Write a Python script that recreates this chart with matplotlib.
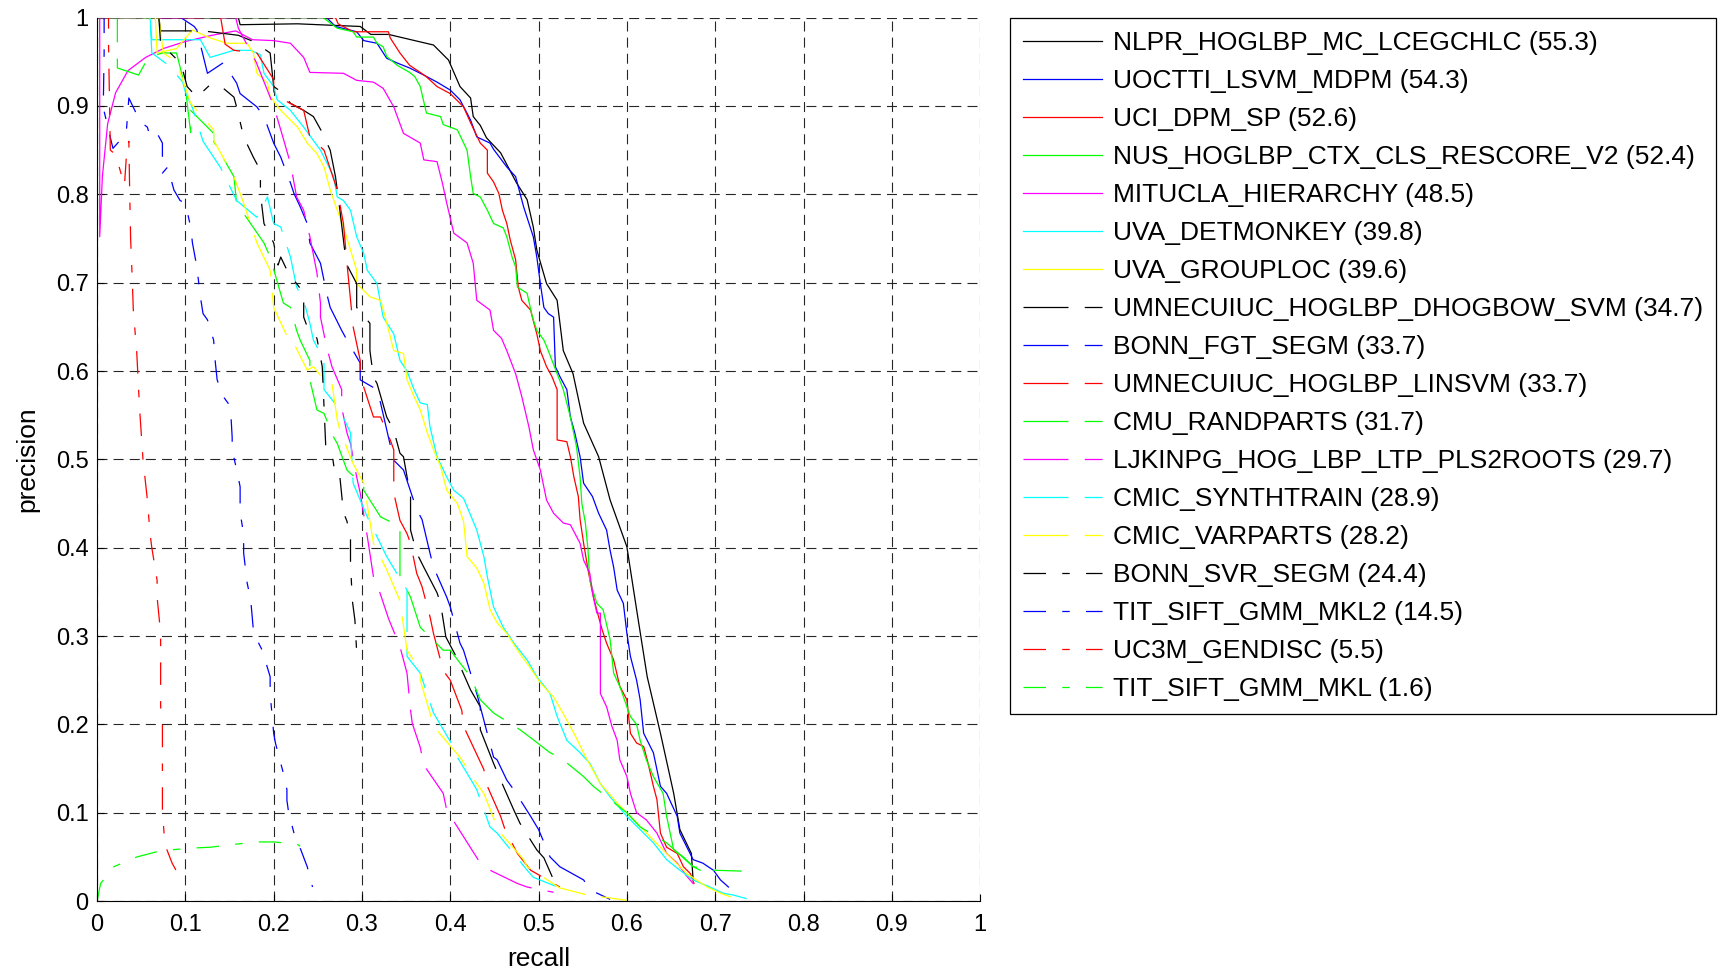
import numpy as np
import matplotlib
matplotlib.use('Agg')
from matplotlib import pyplot as plt

plt.rcParams['font.family'] = ['Liberation Sans', 'DejaVu Sans']

# (recall, precision) points of each detector
nlpr = [(0, 1), (0.16, 1), (0.162, 0.992), (0.227, 0.993), (0.298, 0.99), (0.31, 0.981),
        (0.33, 0.981), (0.381, 0.969), (0.398, 0.952), (0.411, 0.922), (0.423, 0.909),
        (0.426, 0.888), (0.434, 0.878), (0.441, 0.864), (0.457, 0.847), (0.475, 0.813),
        (0.487, 0.794), (0.494, 0.763), (0.498, 0.737), (0.509, 0.699), (0.521, 0.68),
        (0.528, 0.623), (0.539, 0.597), (0.551, 0.541), (0.568, 0.503), (0.581, 0.454),
        (0.6, 0.401), (0.611, 0.33), (0.623, 0.254), (0.638, 0.19), (0.653, 0.122),
        (0.66, 0.081), (0.673, 0.054), (0.675, 0.024)]
uoctti = [(0, 1), (0.26, 1), (0.27, 0.99), (0.294, 0.984), (0.302, 0.974), (0.317, 0.971),
          (0.328, 0.954), (0.339, 0.949), (0.354, 0.943), (0.37, 0.935), (0.385, 0.927),
          (0.4, 0.918), (0.411, 0.907), (0.423, 0.884), (0.43, 0.865), (0.445, 0.858),
          (0.449, 0.851), (0.464, 0.831), (0.474, 0.82), (0.479, 0.801), (0.483, 0.786),
          (0.494, 0.752), (0.498, 0.729), (0.502, 0.699), (0.506, 0.672), (0.511, 0.665),
          (0.517, 0.661), (0.519, 0.605), (0.524, 0.594), (0.532, 0.579), (0.536, 0.548),
          (0.541, 0.53), (0.547, 0.503), (0.551, 0.473), (0.561, 0.458), (0.568, 0.439),
          (0.577, 0.42), (0.581, 0.397), (0.585, 0.378), (0.589, 0.352), (0.596, 0.337),
          (0.6, 0.303), (0.604, 0.277), (0.611, 0.25), (0.615, 0.228), (0.619, 0.19),
          (0.63, 0.168), (0.638, 0.13), (0.645, 0.122), (0.657, 0.096), (0.66, 0.077),
          (0.668, 0.061), (0.675, 0.047), (0.686, 0.043), (0.698, 0.035), (0.706, 0.024),
          (0.715, 0.016)]
uci = [(0, 1), (0.27, 1), (0.273, 0.993), (0.29, 0.984), (0.33, 0.984), (0.332, 0.977),
       (0.343, 0.96), (0.354, 0.946), (0.366, 0.938), (0.373, 0.933), (0.385, 0.922),
       (0.4, 0.914), (0.415, 0.899), (0.423, 0.881), (0.434, 0.858), (0.442, 0.85),
       (0.442, 0.824), (0.449, 0.814), (0.455, 0.801), (0.459, 0.782), (0.464, 0.767),
       (0.468, 0.748), (0.474, 0.726), (0.477, 0.695), (0.481, 0.68), (0.491, 0.669),
       (0.494, 0.657), (0.498, 0.642), (0.502, 0.623), (0.509, 0.605), (0.515, 0.594),
       (0.521, 0.579), (0.521, 0.522), (0.532, 0.52), (0.536, 0.503), (0.54, 0.48),
       (0.545, 0.458), (0.547, 0.432), (0.551, 0.405), (0.556, 0.375), (0.561, 0.349),
       (0.566, 0.329), (0.572, 0.307), (0.577, 0.292), (0.585, 0.273), (0.592, 0.243),
       (0.6, 0.228), (0.604, 0.19), (0.611, 0.179), (0.619, 0.175), (0.624, 0.156),
       (0.63, 0.13), (0.634, 0.115), (0.638, 0.077), (0.645, 0.061), (0.657, 0.054),
       (0.664, 0.039), (0.672, 0.031), (0.676, 0.02)]
nus = [(0, 1), (0.256, 1), (0.272, 0.988), (0.29, 0.984), (0.294, 0.978), (0.313, 0.978),
       (0.317, 0.971), (0.324, 0.967), (0.328, 0.956), (0.34, 0.946), (0.354, 0.938),
       (0.36, 0.933), (0.366, 0.922), (0.373, 0.892), (0.389, 0.888), (0.392, 0.879),
       (0.4, 0.876), (0.408, 0.873), (0.419, 0.85), (0.423, 0.82), (0.426, 0.801),
       (0.434, 0.797), (0.442, 0.782), (0.449, 0.767), (0.46, 0.762), (0.464, 0.752),
       (0.47, 0.729), (0.474, 0.718), (0.476, 0.695), (0.487, 0.688), (0.493, 0.661),
       (0.498, 0.646), (0.506, 0.635), (0.511, 0.623), (0.521, 0.597), (0.528, 0.579),
       (0.536, 0.548), (0.543, 0.514), (0.547, 0.48), (0.549, 0.45), (0.553, 0.428),
       (0.556, 0.397), (0.558, 0.363), (0.566, 0.337), (0.573, 0.33), (0.581, 0.296),
       (0.585, 0.258), (0.592, 0.243), (0.6, 0.22), (0.604, 0.209), (0.611, 0.2),
       (0.615, 0.182), (0.622, 0.16), (0.63, 0.141), (0.641, 0.122), (0.645, 0.096),
       (0.653, 0.058), (0.664, 0.05), (0.675, 0.039), (0.683, 0.035)]
mitucla = [(0.003, 1), (0.003, 0.752), (0.006, 0.82), (0.012, 0.88), (0.021, 0.915),
           (0.035, 0.94), (0.055, 0.955), (0.075, 0.965), (0.1, 0.973), (0.13, 0.98),
           (0.157, 0.985), (0.176, 0.975), (0.2, 0.974), (0.219, 0.971), (0.234, 0.955),
           (0.241, 0.938), (0.279, 0.937), (0.294, 0.929), (0.313, 0.927), (0.324, 0.92),
           (0.336, 0.899), (0.347, 0.869), (0.366, 0.858), (0.37, 0.839), (0.385, 0.837),
           (0.391, 0.813), (0.396, 0.79), (0.404, 0.756), (0.419, 0.745), (0.426, 0.722),
           (0.43, 0.68), (0.445, 0.669), (0.449, 0.646), (0.458, 0.637), (0.464, 0.623),
           (0.474, 0.597), (0.481, 0.571), (0.489, 0.537), (0.494, 0.511), (0.502, 0.488),
           (0.509, 0.454), (0.517, 0.439), (0.528, 0.428), (0.536, 0.426), (0.547, 0.405),
           (0.551, 0.386), (0.558, 0.371), (0.562, 0.344), (0.566, 0.326), (0.57, 0.326),
           (0.57, 0.235), (0.577, 0.22), (0.583, 0.198), (0.589, 0.182), (0.592, 0.16),
           (0.6, 0.141), (0.604, 0.122), (0.611, 0.1), (0.622, 0.092), (0.634, 0.077),
           (0.645, 0.054), (0.657, 0.043), (0.668, 0.028), (0.675, 0.02)]
uva_detmonkey = [(0, 1), (0.06, 1), (0.062, 0.975), (0.117, 0.975), (0.128, 0.955),
                 (0.155, 0.963), (0.174, 0.963), (0.185, 0.958), (0.189, 0.937), (0.2, 0.922),
                 (0.204, 0.907), (0.219, 0.895), (0.234, 0.876), (0.253, 0.85), (0.268, 0.82),
                 (0.272, 0.797), (0.279, 0.793), (0.287, 0.782), (0.294, 0.752), (0.302, 0.733),
                 (0.306, 0.714), (0.317, 0.699), (0.324, 0.661), (0.336, 0.642), (0.343, 0.612),
                 (0.351, 0.6), (0.359, 0.579), (0.366, 0.564), (0.374, 0.562), (0.377, 0.537),
                 (0.385, 0.503), (0.396, 0.48), (0.404, 0.465), (0.415, 0.456), (0.43, 0.42),
                 (0.438, 0.39), (0.442, 0.367), (0.449, 0.333), (0.46, 0.31), (0.472, 0.292),
                 (0.487, 0.273), (0.498, 0.254), (0.513, 0.235), (0.521, 0.209), (0.532, 0.182),
                 (0.547, 0.168), (0.558, 0.156), (0.57, 0.133), (0.581, 0.118), (0.6, 0.096),
                 (0.615, 0.081), (0.63, 0.066), (0.645, 0.047), (0.66, 0.035), (0.675, 0.024),
                 (0.694, 0.016), (0.709, 0.009), (0.72, 0.007), (0.735, 0.003)]
uva_grouploc = [(0, 1), (0.066, 1), (0.068, 0.96), (0.09, 0.965), (0.108, 0.986),
                (0.128, 0.977), (0.147, 0.971), (0.17, 0.971), (0.177, 0.96), (0.181, 0.937),
                (0.193, 0.926), (0.196, 0.911), (0.208, 0.895), (0.227, 0.876), (0.238, 0.858),
                (0.249, 0.846), (0.257, 0.831), (0.264, 0.805), (0.272, 0.782), (0.279, 0.763),
                (0.287, 0.737), (0.294, 0.714), (0.294, 0.699), (0.309, 0.684), (0.321, 0.68),
                (0.324, 0.67), (0.332, 0.639), (0.336, 0.623), (0.347, 0.62), (0.351, 0.59),
                (0.359, 0.571), (0.366, 0.556), (0.374, 0.53), (0.381, 0.511), (0.389, 0.492),
                (0.396, 0.465), (0.408, 0.45), (0.415, 0.43), (0.419, 0.39), (0.43, 0.377),
                (0.438, 0.36), (0.445, 0.33), (0.453, 0.315), (0.464, 0.303), (0.476, 0.284),
                (0.49, 0.265), (0.502, 0.247), (0.517, 0.231), (0.528, 0.212), (0.54, 0.19),
                (0.555, 0.16), (0.57, 0.133), (0.589, 0.111), (0.608, 0.092), (0.63, 0.069),
                (0.645, 0.054), (0.668, 0.031), (0.691, 0.016), (0.706, 0.009), (0.717, 0.005)]
dhogbow = [(0, 1), (0.07, 1), (0.072, 0.985), (0.12, 0.985), (0.16, 0.98), (0.177, 0.973),
           (0.196, 0.96), (0.2, 0.922), (0.21, 0.915), (0.219, 0.903), (0.234, 0.895),
           (0.245, 0.888), (0.255, 0.87), (0.264, 0.85), (0.27, 0.82), (0.275, 0.782),
           (0.28, 0.74), (0.283, 0.72), (0.294, 0.699), (0.294, 0.672), (0.309, 0.654),
           (0.309, 0.623), (0.313, 0.593), (0.317, 0.586), (0.328, 0.548), (0.336, 0.533),
           (0.343, 0.507), (0.347, 0.503), (0.355, 0.458), (0.355, 0.42), (0.362, 0.394),
           (0.37, 0.378), (0.385, 0.349), (0.389, 0.337), (0.395, 0.299), (0.405, 0.28),
           (0.423, 0.239), (0.434, 0.22), (0.434, 0.194), (0.449, 0.156), (0.457, 0.137),
           (0.472, 0.103), (0.479, 0.088), (0.498, 0.058), (0.506, 0.049), (0.517, 0.024)]
bonn_fgt = [(0, 1), (0.095, 1), (0.11, 0.99), (0.113, 0.986), (0.125, 0.937), (0.143, 0.949),
            (0.158, 0.926), (0.162, 0.914), (0.181, 0.899), (0.189, 0.888), (0.2, 0.858),
            (0.208, 0.842), (0.219, 0.813), (0.223, 0.801), (0.23, 0.786), (0.238, 0.767),
            (0.241, 0.745), (0.253, 0.722), (0.26, 0.688), (0.264, 0.672), (0.277, 0.646),
            (0.283, 0.635), (0.298, 0.609), (0.298, 0.59), (0.317, 0.579), (0.321, 0.564),
            (0.336, 0.499), (0.347, 0.488), (0.362, 0.443), (0.368, 0.432), (0.377, 0.394),
            (0.381, 0.378), (0.396, 0.344), (0.4, 0.333), (0.411, 0.292), (0.415, 0.284),
            (0.43, 0.235), (0.434, 0.22), (0.449, 0.163), (0.453, 0.16), (0.464, 0.137),
            (0.472, 0.126), (0.491, 0.096), (0.5, 0.081), (0.513, 0.05), (0.524, 0.039),
            (0.551, 0.024), (0.558, 0.013), (0.581, 0.002)]
linsvm = [(0, 1), (0.14, 1), (0.145, 0.97), (0.155, 0.963), (0.181, 0.96), (0.2, 0.93),
          (0.2, 0.915), (0.211, 0.907), (0.234, 0.895), (0.241, 0.865), (0.257, 0.85),
          (0.272, 0.805), (0.279, 0.767), (0.283, 0.722), (0.29, 0.65), (0.298, 0.612),
          (0.298, 0.594), (0.313, 0.548), (0.321, 0.548), (0.332, 0.522), (0.336, 0.511),
          (0.336, 0.462), (0.343, 0.431), (0.351, 0.416), (0.355, 0.405), (0.362, 0.371),
          (0.368, 0.356), (0.377, 0.322), (0.381, 0.303), (0.392, 0.261), (0.4, 0.25),
          (0.413, 0.216), (0.415, 0.198), (0.438, 0.149), (0.442, 0.13), (0.457, 0.096),
          (0.462, 0.081), (0.476, 0.054), (0.491, 0.035), (0.524, 0.016)]
cmu = [(0, 1), (0.023, 1), (0.023, 0.943), (0.047, 0.935), (0.058, 0.955), (0.074, 0.96),
       (0.09, 0.96), (0.1, 0.92), (0.106, 0.87), (0.106, 0.895), (0.132, 0.869),
       (0.132, 0.86), (0.155, 0.82), (0.158, 0.79), (0.189, 0.745), (0.196, 0.729),
       (0.211, 0.677), (0.219, 0.672), (0.226, 0.646), (0.23, 0.635), (0.241, 0.612),
       (0.241, 0.59), (0.249, 0.556), (0.257, 0.552), (0.268, 0.525), (0.272, 0.518),
       (0.283, 0.488), (0.287, 0.484), (0.302, 0.473), (0.302, 0.465), (0.321, 0.435),
       (0.343, 0.424), (0.343, 0.367), (0.351, 0.352), (0.355, 0.344), (0.366, 0.31),
       (0.392, 0.284), (0.4, 0.284), (0.423, 0.254), (0.434, 0.228), (0.449, 0.213),
       (0.479, 0.194), (0.491, 0.185), (0.513, 0.168), (0.524, 0.163), (0.551, 0.141),
       (0.562, 0.13), (0.6, 0.1), (0.615, 0.084), (0.645, 0.066), (0.675, 0.039),
       (0.698, 0.035), (0.73, 0.034)]
ljkinpg = [(0, 1), (0.157, 1), (0.16, 0.988), (0.18, 0.95), (0.2, 0.9), (0.208, 0.873),
           (0.219, 0.835), (0.226, 0.797), (0.234, 0.782), (0.241, 0.752), (0.249, 0.711),
           (0.253, 0.677), (0.253, 0.661), (0.26, 0.627), (0.266, 0.605), (0.277, 0.579),
           (0.277, 0.559), (0.283, 0.53), (0.287, 0.518), (0.294, 0.48), (0.298, 0.462),
           (0.306, 0.413), (0.313, 0.367), (0.32, 0.35), (0.33, 0.32), (0.343, 0.288),
           (0.351, 0.258), (0.355, 0.216), (0.357, 0.201), (0.366, 0.174), (0.37, 0.154),
           (0.392, 0.122), (0.396, 0.103), (0.434, 0.043), (0.445, 0.035), (0.476, 0.02),
           (0.487, 0.016), (0.517, 0.01)]
cmic_synthtrain = [(0, 1), (0.06, 1), (0.062, 0.96), (0.081, 0.946), (0.097, 0.927),
                   (0.1, 0.916), (0.108, 0.898), (0.12, 0.86), (0.14, 0.83), (0.158, 0.793),
                   (0.181, 0.774), (0.193, 0.797), (0.2, 0.767), (0.208, 0.763), (0.219, 0.729),
                   (0.226, 0.695), (0.234, 0.68), (0.241, 0.654), (0.245, 0.635), (0.257, 0.612),
                   (0.257, 0.579), (0.272, 0.56), (0.275, 0.556), (0.287, 0.53), (0.29, 0.473),
                   (0.306, 0.435), (0.328, 0.39), (0.351, 0.352), (0.351, 0.277), (0.366, 0.258),
                   (0.381, 0.213), (0.404, 0.174), (0.408, 0.163), (0.426, 0.133), (0.43, 0.126),
                   (0.445, 0.084), (0.453, 0.077), (0.487, 0.035), (0.494, 0.027), (0.524, 0.015)]
cmic_varparts = [(0, 1), (0.07, 1), (0.075, 0.96), (0.09, 0.95), (0.106, 0.903),
                 (0.132, 0.873), (0.132, 0.861), (0.155, 0.82), (0.166, 0.79), (0.181, 0.745),
                 (0.196, 0.714), (0.2, 0.672), (0.219, 0.631), (0.223, 0.631), (0.238, 0.601),
                 (0.245, 0.605), (0.26, 0.586), (0.266, 0.586), (0.272, 0.545), (0.275, 0.533),
                 (0.29, 0.495), (0.302, 0.473), (0.313, 0.405), (0.328, 0.375), (0.343, 0.34),
                 (0.351, 0.284), (0.366, 0.261), (0.366, 0.25), (0.377, 0.213), (0.381, 0.198),
                 (0.404, 0.171), (0.411, 0.163), (0.43, 0.133), (0.438, 0.122), (0.453, 0.084),
                 (0.457, 0.077), (0.483, 0.047), (0.487, 0.039), (0.524, 0.015), (0.555, 0.007),
                 (0.6, 0.001)]
bonn_svr = [(0, 1), (0.07, 1), (0.072, 0.97), (0.08, 0.963), (0.095, 0.948), (0.102, 0.922),
            (0.113, 0.91), (0.128, 0.924), (0.136, 0.92), (0.143, 0.92), (0.155, 0.91),
            (0.158, 0.899), (0.166, 0.865), (0.177, 0.842), (0.185, 0.827), (0.185, 0.801),
            (0.189, 0.767), (0.2, 0.745), (0.205, 0.72), (0.208, 0.729), (0.219, 0.706),
            (0.226, 0.699), (0.234, 0.688), (0.234, 0.661), (0.238, 0.65), (0.245, 0.642),
            (0.249, 0.637), (0.255, 0.605), (0.257, 0.56), (0.259, 0.514), (0.266, 0.507),
            (0.27, 0.48), (0.275, 0.48), (0.279, 0.44), (0.283, 0.43), (0.287, 0.41),
            (0.287, 0.383), (0.289, 0.341), (0.292, 0.318), (0.294, 0.282)]
tit_mkl2 = [(0, 1), (0.008, 1), (0.008, 0.96), (0.007, 0.898), (0.018, 0.852), (0.033, 0.869),
            (0.036, 0.909), (0.049, 0.882), (0.057, 0.876), (0.06, 0.865), (0.068, 0.869),
            (0.074, 0.858), (0.074, 0.824), (0.08, 0.831), (0.087, 0.805), (0.094, 0.793),
            (0.1, 0.79), (0.106, 0.763), (0.108, 0.745), (0.113, 0.718), (0.117, 0.684),
            (0.12, 0.665), (0.125, 0.658), (0.132, 0.635), (0.134, 0.609), (0.136, 0.59),
            (0.143, 0.571), (0.151, 0.56), (0.153, 0.525), (0.153, 0.511), (0.159, 0.484),
            (0.162, 0.469), (0.162, 0.44), (0.166, 0.415), (0.166, 0.394), (0.17, 0.36),
            (0.174, 0.341), (0.177, 0.307), (0.181, 0.296), (0.187, 0.284), (0.196, 0.254),
            (0.196, 0.235), (0.2, 0.19), (0.202, 0.179), (0.213, 0.137), (0.215, 0.126),
            (0.215, 0.114), (0.217, 0.1), (0.223, 0.077), (0.23, 0.06), (0.238, 0.039),
            (0.244, 0.016)]
uc3m = [(0, 1), (0.013, 1), (0.013, 0.97), (0.015, 0.85), (0.021, 0.845), (0.031, 0.81),
        (0.033, 0.84), (0.036, 0.86), (0.037, 0.8), (0.038, 0.75), (0.04, 0.7),
        (0.041, 0.67), (0.045, 0.62), (0.048, 0.56), (0.052, 0.5), (0.057, 0.454),
        (0.06, 0.416), (0.062, 0.4), (0.068, 0.363), (0.068, 0.344), (0.072, 0.303),
        (0.072, 0.22), (0.074, 0.205), (0.074, 0.103), (0.076, 0.075), (0.078, 0.061),
        (0.085, 0.043), (0.091, 0.032), (0.097, 0.028)]
tit_mkl = [(0, 0), (0.004, 0.02), (0.019, 0.039), (0.045, 0.05), (0.068, 0.056),
           (0.083, 0.058), (0.106, 0.06), (0.128, 0.061), (0.162, 0.065), (0.181, 0.067),
           (0.2, 0.067), (0.211, 0.066), (0.226, 0.065), (0.23, 0.062)]

names = ['NLPR_HOGLBP_MC_LCEGCHLC', 'UOCTTI_LSVM_MDPM', 'UCI_DPM_SP',
         'NUS_HOGLBP_CTX_CLS_RESCORE_V2', 'MITUCLA_HIERARCHY', 'UVA_DETMONKEY',
         'UVA_GROUPLOC', 'UMNECUIUC_HOGLBP_DHOGBOW_SVM', 'BONN_FGT_SEGM',
         'UMNECUIUC_HOGLBP_LINSVM', 'CMU_RANDPARTS', 'LJKINPG_HOG_LBP_LTP_PLS2ROOTS',
         'CMIC_SYNTHTRAIN', 'CMIC_VARPARTS', 'BONN_SVR_SEGM', 'TIT_SIFT_GMM_MKL2',
         'UC3M_GENDISC', 'TIT_SIFT_GMM_MKL']
ap = [55.3, 54.3, 52.6, 52.4, 48.5, 39.8, 39.6, 34.7, 33.7, 33.7, 31.7, 29.7,
      28.9, 28.2, 24.4, 14.5, 5.5, 1.6]
curves = [nlpr, uoctti, uci, nus, mitucla, uva_detmonkey, uva_grouploc, dhogbow,
          bonn_fgt, linsvm, cmu, ljkinpg, cmic_synthtrain, cmic_varparts, bonn_svr,
          tit_mkl2, uc3m, tit_mkl]

# matlab style colour / line style cycle
colours = [(0, 0, 0), (0, 0, 1), (1, 0, 0), (0, 1, 0), (1, 0, 1), (0, 1, 1), (1, 1, 0)]
styles = ['-', (0, (36, 13)), (0, (18, 13, 6, 13))]

fig = plt.figure(figsize=(17.21, 9.74), dpi=100)
ax = fig.add_axes([0.0564, 0.0748, 0.5131, 0.9071])

for i, (pts, name, val) in enumerate(zip(curves, names, ap)):
    r, p = np.array(pts, dtype=float).T
    ax.plot(r, p, color=colours[i % 7], linestyle=styles[min(i // 7, 2)],
            lw=0.9, label=f'{name} ({val})')

ticks = np.arange(0, 1.01, 0.1)
ax.set_xlim(0, 1)
ax.set_ylim(0, 1)
ax.set_xticks(ticks)
ax.set_yticks(ticks)
ax.set_xticklabels([f'{t:g}' for t in ticks])
ax.set_yticklabels([f'{t:g}' for t in ticks])
ax.tick_params(direction='in', length=5, labelsize=17, width=0.8)
ax.tick_params(axis='x', pad=9)
ax.tick_params(axis='y', pad=6)
ax.grid(True, color='0.15', linestyle=(0, (9, 5.5)), lw=0.8)
ax.spines['top'].set_visible(False)
ax.spines['right'].set_visible(False)
for s in ('left', 'bottom'):
    ax.spines[s].set_linewidth(0.8)

ax.set_xlabel('recall', fontsize=19, labelpad=8)
ax.set_ylabel('precision', fontsize=19, labelpad=12)

leg = ax.legend(loc='upper left', bbox_to_anchor=(1010 / 1721, 1 - 18 / 974),
                bbox_transform=fig.transFigure, borderaxespad=0, fontsize=19,
                fancybox=False, framealpha=1, edgecolor='k', handlelength=3.0,
                handletextpad=0.4, labelspacing=0.53, borderpad=0.5)
leg.get_frame().set_linewidth(0.9)

fig.savefig('out.png', dpi=100)
